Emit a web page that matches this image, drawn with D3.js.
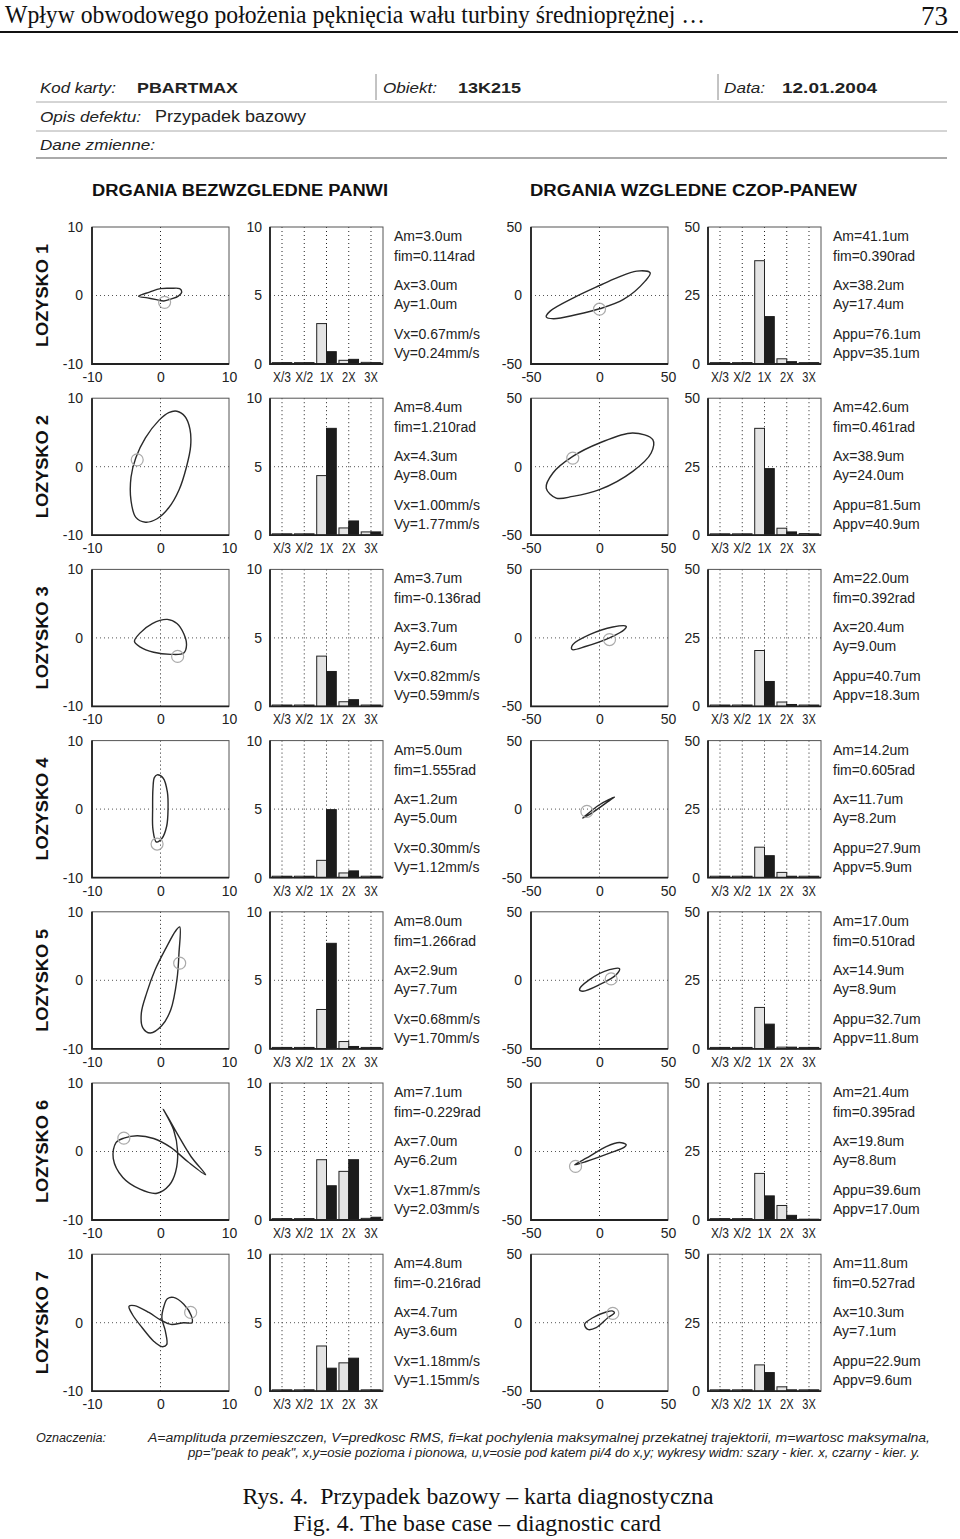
<!DOCTYPE html>
<html><head><meta charset="utf-8">
<script src="https://cdn.jsdelivr.net/npm/d3@7"></script>
<style>body{margin:0;background:#fff}</style>
</head><body>
<svg id="c" width="960" height="1539"></svg>
<script>
// ---------------- DATA ----------------
const pageTitle = "Wpływ obwodowego położenia pęknięcia wału turbiny średnioprężnej …";
const pageNumber = "73";
const bearings = ["LOZYSKO 1","LOZYSKO 2","LOZYSKO 3","LOZYSKO 4","LOZYSKO 5","LOZYSKO 6","LOZYSKO 7"];
const categories = ["X/3","X/2","1X","2X","3X"];
const absTicks = [-10,0,10];
const relTicks = [-50,0,50];
const absSpecTicks = [0,5,10];
const relSpecTicks = [0,25,50];
const sectionTitles = ["DRGANIA BEZWZGLEDNE PANWI","DRGANIA WZGLEDNE CZOP-PANEW"];

// spectra: grey = direction x, black = direction y
const absGrey = [
  [0.1,0.1,2.95,0.27,0.12],
  [0.1,0.1,4.35,0.53,0.24],
  [0.1,0.1,3.67,0.34,0.1],
  [0.1,0.1,1.26,0.34,0.1],
  [0.1,0.1,2.87,0.53,0.1],
  [0.1,0.1,4.40,3.55,0.12],
  [0.1,0.1,3.30,2.07,0.1]];
const absBlack = [
  [0.1,0.1,0.90,0.34,0.1],
  [0.1,0.1,7.80,1.04,0.24],
  [0.1,0.1,2.55,0.49,0.1],
  [0.1,0.1,4.96,0.49,0.1],
  [0.1,0.1,7.70,0.17,0.1],
  [0.1,0.1,2.50,4.40,0.20],
  [0.1,0.1,1.68,2.41,0.1]];
const relGrey = [
  [0.5,0.5,37.7,1.9,0.5],
  [0.5,0.5,39.0,2.55,0.6],
  [0.5,0.5,20.4,1.6,0.5],
  [0.5,0.5,11.1,1.9,0.5],
  [0.5,0.5,15.1,0.6,0.5],
  [0.5,0.5,17.0,5.3,0.3],
  [0.5,0.5,9.6,1.6,0.5]];
const relBlack = [
  [0.5,0.5,17.3,0.85,0.5],
  [0.5,0.5,24.3,1.2,0.5],
  [0.5,0.5,9.1,0.7,0.5],
  [0.5,0.5,8.0,0.5,0.5],
  [0.5,0.5,9.0,0.6,0.5],
  [0.5,0.5,8.8,1.7,0.3],
  [0.5,0.5,6.8,0.5,0.5]];

const absInfo = [
  ["Am=3.0um","fim=0.114rad","Ax=3.0um","Ay=1.0um","Vx=0.67mm/s","Vy=0.24mm/s"],
  ["Am=8.4um","fim=1.210rad","Ax=4.3um","Ay=8.0um","Vx=1.00mm/s","Vy=1.77mm/s"],
  ["Am=3.7um","fim=-0.136rad","Ax=3.7um","Ay=2.6um","Vx=0.82mm/s","Vy=0.59mm/s"],
  ["Am=5.0um","fim=1.555rad","Ax=1.2um","Ay=5.0um","Vx=0.30mm/s","Vy=1.12mm/s"],
  ["Am=8.0um","fim=1.266rad","Ax=2.9um","Ay=7.7um","Vx=0.68mm/s","Vy=1.70mm/s"],
  ["Am=7.1um","fim=-0.229rad","Ax=7.0um","Ay=6.2um","Vx=1.87mm/s","Vy=2.03mm/s"],
  ["Am=4.8um","fim=-0.216rad","Ax=4.7um","Ay=3.6um","Vx=1.18mm/s","Vy=1.15mm/s"]];
const relInfo = [
  ["Am=41.1um","fim=0.390rad","Ax=38.2um","Ay=17.4um","Appu=76.1um","Appv=35.1um"],
  ["Am=42.6um","fim=0.461rad","Ax=38.9um","Ay=24.0um","Appu=81.5um","Appv=40.9um"],
  ["Am=22.0um","fim=0.392rad","Ax=20.4um","Ay=9.0um","Appu=40.7um","Appv=18.3um"],
  ["Am=14.2um","fim=0.605rad","Ax=11.7um","Ay=8.2um","Appu=27.9um","Appv=5.9um"],
  ["Am=17.0um","fim=0.510rad","Ax=14.9um","Ay=8.9um","Appu=32.7um","Appv=11.8um"],
  ["Am=21.4um","fim=0.395rad","Ax=19.8um","Ay=8.8um","Appu=39.6um","Appv=17.0um"],
  ["Am=11.8um","fim=0.527rad","Ax=10.3um","Ay=7.1um","Appu=22.9um","Appv=9.6um"]];

// orbit trajectories (um)
const absOrbits = [
  [[-3.2,-0.1],[-1.6,0.5],[0,1.0],[1.5,1.05],[2.8,1.0],[3.1,0.5],[2.6,-0.1],[1.6,-0.5],[0.5,-0.8],[-0.6,-0.6],[-1.9,-0.35]],
  [[2.4,8.1],[3.6,7.3],[4.3,5.5],[4.4,3.0],[3.8,0],[2.7,-3.4],[1.2,-6.0],[-0.5,-7.6],[-2.2,-8.1],[-3.6,-7.4],[-4.3,-5.0],[-4.3,-1.5],[-3.6,1.3],[-2.2,4.2],[-0.2,6.8],[1.2,7.9]],
  [[1.0,2.7],[2.4,2.1],[3.4,0.6],[3.8,-1.0],[3.4,-2.2],[1.5,-2.4],[-1.0,-2.1],[-3.0,-1.3],[-3.8,-0.5],[-3.0,0.7],[-1.2,2.1]],
  [[-0.5,5.0],[0.4,4.5],[1.0,2.5],[1.1,0],[0.9,-2.5],[0.2,-4.3],[-0.6,-4.8],[-1.1,-3.0],[-1.15,0],[-1.1,3.0],[-0.9,4.6]],
  [[2.8,7.8],[2.7,4.0],[2.4,0.1],[1.5,-4.3],[0.2,-6.6],[-1.5,-7.7],[-2.6,-6.9],[-2.8,-4.8],[-2.0,-1.8],[-0.8,1.5],[0.8,4.7],[2.2,7.2]],
  [[-5.35,1.95],[-3.4,2.3],[-1.0,1.9],[1.5,0.6],[4.0,-1.5],[6.6,-3.4],[4.5,-0.8],[2.5,2.5],[0.4,6.2],[1.9,3.2],[2.5,0],[2.2,-3.0],[1.3,-4.9],[-0.5,-6.1],[-3.0,-5.5],[-5.5,-3.8],[-6.9,-1.0],[-6.5,1.3]],
  [[4.6,0.0],[4.5,1.0],[3.4,2.7],[1.9,3.7],[1.0,3.5],[0.5,2.4],[0.2,0.7],[0.7,-1.2],[0.9,-3.2],[0.2,-3.5],[-1.0,-2.7],[-2.7,-0.7],[-4.1,1.2],[-4.6,2.4],[-3.8,2.5],[-1.7,1.5],[0,0.4],[1.5,-0.25],[3.4,0]]];
const absMarks = [[0.6,-1.0],[-3.4,1.0],[2.5,-2.7],[-0.5,-5.1],[2.8,2.5],[-5.35,1.95],[4.4,1.5]];
const relOrbits = [
  [[37,16.5],[27.2,17.8],[12.6,12.9],[0,7.3],[-19,-1.7],[-36,-11.4],[-38.9,-15.6],[-33.6,-17],[-16.5,-13.9],[0,-9.7],[17.5,-2.9],[33.3,10.5]],
  [[38.9,19.7],[24.3,24.6],[0,17.3],[-19.5,7.5],[-34,-4.6],[-38.9,-15.6],[-31.6,-22.9],[-19.5,-21.7],[0,-16.8],[24.3,-3.4],[37.7,10]],
  [[19.5,8.5],[9.7,8.0],[-7.3,2.4],[-19.5,-4.9],[-20,-8.5],[-9.7,-6.1],[7.3,0],[18.2,6.1]],
  [[10.9,8.8],[0,3.2],[-10.9,-5.4],[-12.2,-6.6],[-4.9,-2.4],[9.7,8.0]],
  [[14.6,8.5],[7.3,7.8],[-7.3,0.5],[-14.6,-6.8],[-12.2,-8.0],[0,-3.2],[12.2,4.1]],
  [[19.5,4.9],[14.6,6.6],[4.9,3.6],[-7.3,-3.6],[-18.2,-9.7],[-9.7,-7.3],[7.3,-1.2],[18.2,3.2]],
  [[9.7,8.5],[4.9,7.8],[-4.9,3.6],[-10.9,-1.2],[-8.5,-4.9],[-2.4,-3.6],[6.1,3.6],[10.9,7.3]]];
const relMarks = [[0,-10],[-19.5,6.3],[7.3,-1.2],[-9.2,-1.7],[8.5,1.0],[-17.5,-10.9],[9.7,6.8]];

const legendLabel = "Oznaczenia:";
const legendLines = [
  "A=amplituda przemieszczen,  V=predkosc RMS,  fi=kat pochylenia maksymalnej przekatnej trajektorii,  m=wartosc maksymalna,",
  "pp=\"peak to peak\",  x,y=osie pozioma i pionowa,  u,v=osie pod katem pi/4 do x,y;  wykresy widm: szary - kier. x, czarny - kier. y."];
const captions = ["Rys. 4.\u00a0\u00a0Przypadek bazowy – karta diagnostyczna","Fig. 4. The base case – diagnostic card"];

// ---------------- DRAWING ----------------
const svg = d3.select("#c");
const SANS = "'Liberation Sans',Arial,Helvetica,sans-serif";
const SERIF = "'Liberation Serif','Times New Roman',serif";
const BOX = 137, SPW = 113, TOP0 = 227, STEP = 171.2;
const INK = "#222";

function txt(x, y, s, o = {}) {
  const t = svg.append("text").attr("x", x).attr("y", y).text(s)
    .attr("font-family", o.family || SANS).attr("font-size", o.size || 14)
    .attr("fill", o.fill || INK);
  if (o.weight) t.attr("font-weight", o.weight);
  if (o.style) t.attr("font-style", o.style);
  if (o.anchor) t.attr("text-anchor", o.anchor);
  if (o.len) t.attr("textLength", o.len).attr("lengthAdjust", "spacingAndGlyphs");
  return t;
}

// page header
txt(5, 23, pageTitle, {family: SERIF, size: 25, len: 700, fill: "#111"});
txt(948, 25, pageNumber, {family: SERIF, size: 27, anchor: "end", fill: "#111"});
svg.append("line").attr("x1", 0).attr("x2", 958).attr("y1", 32).attr("y2", 32)
  .attr("stroke", "#111").attr("stroke-width", 2);

// card header
txt(40, 93, "Kod karty:", {style: "italic", size: 14, len: 76});
txt(137, 93, "PBARTMAX", {weight: "bold", size: 15, len: 101});
txt(383, 93, "Obiekt:", {style: "italic", size: 14, len: 54});
txt(458, 93, "13K215", {weight: "bold", size: 15, len: 63});
txt(724, 93, "Data:", {style: "italic", size: 14, len: 41});
txt(782, 93, "12.01.2004", {weight: "bold", size: 15, len: 95});
txt(40, 122, "Opis defektu:", {style: "italic", size: 14, len: 101});
txt(155, 122, "Przypadek bazowy", {size: 16, len: 151});
txt(40, 150, "Dane zmienne:", {style: "italic", size: 14, len: 115});
[[376, 74, 100], [718, 74, 100]].forEach(d =>
  svg.append("line").attr("x1", d[0]).attr("x2", d[0]).attr("y1", d[1]).attr("y2", d[2])
    .attr("stroke", "#888").attr("stroke-width", 1));
[[102, 1], [131, 1], [158, 2]].forEach(d =>
  svg.append("line").attr("x1", 36).attr("x2", 947).attr("y1", d[0]).attr("y2", d[0])
    .attr("stroke", "#aaa").attr("stroke-width", d[1]));

// section titles
txt(92, 196, sectionTitles[0], {weight: "bold", size: 16, len: 296, fill: "#111"});
txt(530, 196, sectionTitles[1], {weight: "bold", size: 16, len: 327, fill: "#111"});

const groups = [
  {ox: 92, sx: 270, ix: 394, ticks: absTicks, sticks: absSpecTicks, orbits: absOrbits, marks: absMarks,
   grey: absGrey, black: absBlack, info: absInfo},
  {ox: 531, sx: 708, ix: 833, ticks: relTicks, sticks: relSpecTicks, orbits: relOrbits, marks: relMarks,
   grey: relGrey, black: relBlack, info: relInfo}];

function frame(g, w, h) {
  g.append("rect").attr("width", w).attr("height", h).attr("fill", "none")
    .attr("stroke", "#555").attr("stroke-width", 1);
  g.append("path").attr("d", `M0,0V${h}H${w}`).attr("fill", "none")
    .attr("stroke", "#222").attr("stroke-width", 1.8);
}
function styleAxis(a, size) {
  a.select(".domain").remove();
  a.attr("font-family", SANS).attr("font-size", size).attr("color", INK);
}
const plainFmt = d => String(d);

bearings.forEach((name, i) => {
  const top = TOP0 + i * STEP;
  // row label
  svg.append("text").attr("transform", `translate(48,${top + BOX / 2}) rotate(-90)`)
    .attr("text-anchor", "middle").attr("font-family", SANS).attr("font-weight", "bold")
    .attr("font-size", 17).attr("fill", "#111")
    .attr("textLength", 103).attr("lengthAdjust", "spacingAndGlyphs").text(name);

  groups.forEach(G => {
    // ---- orbit ----
    const dom = [G.ticks[0], G.ticks[2]];
    const xO = d3.scaleLinear().domain(dom).range([0, BOX]);
    const yO = d3.scaleLinear().domain(dom).range([BOX, 0]);
    const g = svg.append("g").attr("transform", `translate(${G.ox},${top})`);
    g.append("line").attr("x1", xO(0)).attr("x2", xO(0)).attr("y1", 0).attr("y2", BOX)
      .attr("stroke", "#222").attr("stroke-width", 1).attr("stroke-dasharray", "1,3");
    g.append("line").attr("x1", 0).attr("x2", BOX).attr("y1", yO(0)).attr("y2", yO(0))
      .attr("stroke", "#555").attr("stroke-width", 1).attr("stroke-dasharray", "1,3");
    frame(g, BOX, BOX);
    const ay = g.append("g").call(d3.axisLeft(yO).tickValues(G.ticks).tickSize(0).tickPadding(9).tickFormat(plainFmt));
    styleAxis(ay, 14);
    const ax = g.append("g").attr("transform", `translate(0,${BOX})`)
      .call(d3.axisBottom(xO).tickValues(G.ticks).tickSize(0).tickPadding(8).tickFormat(plainFmt));
    styleAxis(ax, 14);
    g.append("path").datum(G.orbits[i])
      .attr("d", d3.line().x(d => xO(d[0])).y(d => yO(d[1])).curve(d3.curveCatmullRomClosed.alpha(0.5)))
      .attr("fill", "none").attr("stroke", "#2a2a2a").attr("stroke-width", 1.4);
    g.append("circle").attr("cx", xO(G.marks[i][0])).attr("cy", yO(G.marks[i][1])).attr("r", 6)
      .attr("fill", "none").attr("stroke", "#aaa").attr("stroke-width", 1.2);

    // ---- spectrum ----
    const xS = d3.scaleBand().domain(categories).range([0, SPW]).paddingInner(0.12).paddingOuter(0.1);
    const sub = d3.scaleBand().domain(["x", "y"]).range([0, xS.bandwidth()]);
    const yS = d3.scaleLinear().domain([G.sticks[0], G.sticks[2]]).range([BOX, 0]);
    const s = svg.append("g").attr("transform", `translate(${G.sx},${top})`);
    s.selectAll(".vg").data(categories).join("line")
      .attr("x1", d => xS(d) + xS.bandwidth() / 2).attr("x2", d => xS(d) + xS.bandwidth() / 2)
      .attr("y1", 0).attr("y2", BOX).attr("stroke", "#222").attr("stroke-dasharray", "1,3");
    s.append("line").attr("x1", 0).attr("x2", SPW).attr("y1", yS(G.sticks[1])).attr("y2", yS(G.sticks[1]))
      .attr("stroke", "#555").attr("stroke-dasharray", "1,3");
    const rows = categories.map((c, k) => ({c, x: G.grey[i][k], y: G.black[i][k]}));
    s.selectAll(".bg").data(rows).join("rect")
      .attr("x", d => xS(d.c) + sub("x")).attr("width", sub.bandwidth())
      .attr("y", d => yS(d.x)).attr("height", d => yS(0) - yS(d.x))
      .attr("fill", "#e4e4e4").attr("stroke", "#222").attr("stroke-width", 1);
    s.selectAll(".bb").data(rows).join("rect")
      .attr("x", d => xS(d.c) + sub("y")).attr("width", sub.bandwidth())
      .attr("y", d => yS(d.y)).attr("height", d => yS(0) - yS(d.y))
      .attr("fill", "#1c1c1c").attr("stroke", "#1c1c1c").attr("stroke-width", 1);
    frame(s, SPW, BOX);
    const sy = s.append("g").call(d3.axisLeft(yS).tickValues(G.sticks).tickSize(0).tickPadding(8).tickFormat(plainFmt));
    styleAxis(sy, 14);
    const sx = s.append("g").attr("transform", `translate(0,${BOX})`)
      .call(d3.axisBottom(xS).tickSize(0).tickPadding(8));
    styleAxis(sx, 14);
    sx.selectAll("text").attr("textLength", d => d.length === 3 ? 18 : 13.5).attr("lengthAdjust", "spacingAndGlyphs");

    // ---- info text ----
    const offs = [14, 34, 63, 82, 112, 131];
    G.info[i].forEach((t, k) => txt(G.ix, top + offs[k], t, {size: 14}));
  });
});

// legend
txt(36, 1442, legendLabel, {style: "italic", size: 12, len: 70});
txt(148, 1442, legendLines[0], {style: "italic", size: 12, len: 782});
txt(188, 1457, legendLines[1], {style: "italic", size: 12, len: 732});

// captions
txt(478, 1504, captions[0], {family: SERIF, size: 23, anchor: "middle", len: 471, fill: "#111"});
txt(477, 1531, captions[1], {family: SERIF, size: 23, anchor: "middle", len: 368, fill: "#111"});
</script>
</body></html>
